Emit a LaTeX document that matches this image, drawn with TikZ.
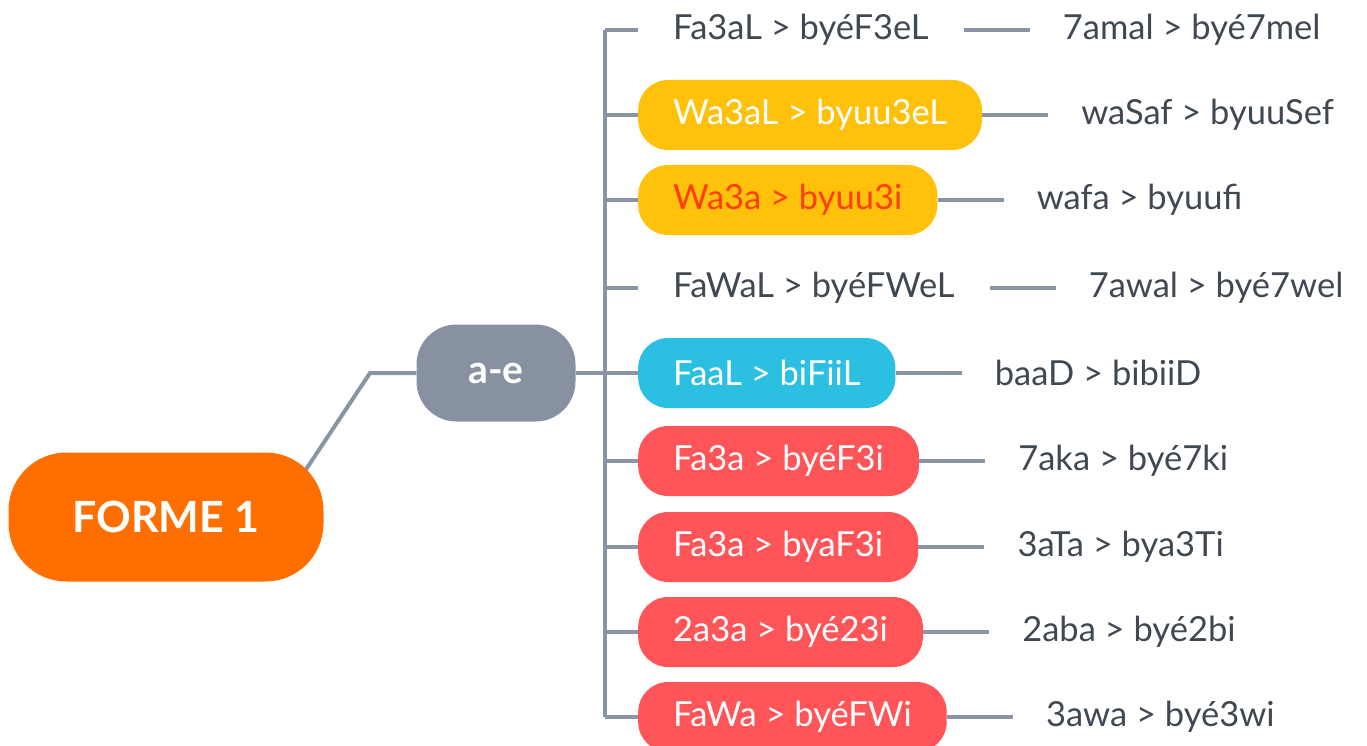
\documentclass[tikz,border=0pt]{standalone}
\usepackage{fontspec}
\setmainfont{Lato}
\usetikzlibrary{positioning,calc,backgrounds}
\definecolor{cOrange}{HTML}{FF6F00}
\definecolor{cGrayN}{HTML}{8891A2}
\definecolor{cLine}{HTML}{8A94A6}
\definecolor{cYellow}{HTML}{FFC10A}
\definecolor{cCyan}{HTML}{2BBFE2}
\definecolor{cRed}{HTML}{FF5558}
\definecolor{cText}{HTML}{404852}
\definecolor{cRedText}{HTML}{FF3D00}
\tikzset{
  conn/.style={draw=cLine,line width=4pt},
  br/.style={anchor=west,inner xsep=35pt,minimum height=70pt,rounded corners=30pt,font=\fontsize{34.5}{40}\selectfont,text=white},
  plain/.style={br,text=cText},
  ybox/.style={br,fill=cYellow},
  cbox/.style={br,fill=cCyan},
  rbox/.style={br,fill=cRed},
  rt/.style={inner xsep=33pt,inner ysep=0pt,font=\fontsize{34.5}{40}\selectfont,text=cText,right=66pt of #1}
}
\begin{document}
\begin{tikzpicture}[x=1pt,y=-1pt]
\useasboundingbox (0,0) rectangle (1367,746);
\node[fill=cOrange,text=white,minimum width=315pt,minimum height=129pt,rounded corners=58pt,font=\fontsize{43}{50}\bfseries\selectfont] (f1) at (166,517) {FORME 1};
\node[fill=cGrayN,text=white,minimum width=159pt,minimum height=97pt,rounded corners=40pt,font=\fontsize{39}{46}\bfseries\selectfont] (ae) at (496,373) {a-e};
\coordinate (k) at (370,373);
\foreach \i/\y in {1/30,2/115,3/200,4/288,5/373,6/461,7/547,8/632,9/717}{
  \coordinate (b\i) at (605,\y);
}
\node[plain] (m1) at (638,30) {Fa3aL > byéF3eL};
\node[ybox] (m2) at (638,115) {Wa3aL > byuu3eL};
\node[ybox,text=cRedText] (m3) at (638,200) {Wa3a > byuu3i};
\node[plain] (m4) at (638,288) {FaWaL > byéFWeL};
\node[cbox] (m5) at (638,373) {FaaL > biFiiL};
\node[rbox] (m6) at (638,461) {Fa3a > byéF3i};
\node[rbox] (m7) at (638,547) {Fa3a > byaF3i};
\node[rbox] (m8) at (638,632) {2a3a > byé23i};
\node[rbox] (m9) at (638,717) {FaWa > byéFWi};
\node[rt=m1] (r1) {7amal > byé7mel};
\node[rt=m2] (r2) {waSaf > byuuSef};
\node[rt=m3] (r3) {wafa > byuufi};
\node[rt=m4] (r4) {7awal > byé7wel};
\node[rt=m5] (r5) {baaD > bibiiD};
\node[rt=m6] (r6) {7aka > byé7ki};
\node[rt=m7] (r7) {3aTa > bya3Ti};
\node[rt=m8] (r8) {2aba > byé2bi};
\node[rt=m9] (r9) {3awa > byé3wi};
\begin{pgfonlayer}{background}
\draw[conn] ($(f1.east)+(-38,-17)$) -- (k) -- (ae.west);
\draw[conn] (ae.east) -- (b5);
\draw[conn] (b1) -- (b9);
\foreach \i in {1,...,9}{
  \draw[conn] (b\i) -- (m\i.west);
  \draw[conn] (m\i.east) -- (r\i.west);
}
\end{pgfonlayer}
\end{tikzpicture}
\end{document}
